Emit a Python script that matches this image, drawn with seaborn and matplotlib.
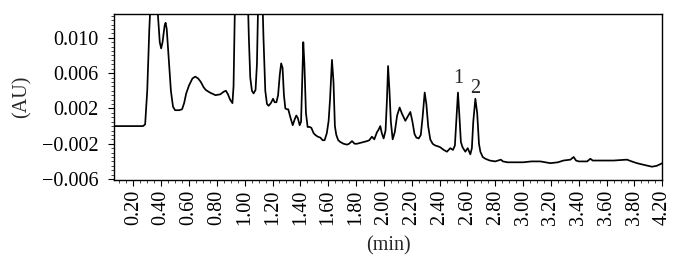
import numpy as np
import pandas as pd
import matplotlib
matplotlib.use("Agg")
import matplotlib.pyplot as plt
import seaborn as sns
from matplotlib.ticker import MultipleLocator, FuncFormatter

# chromatogram trace (time in min, signal in AU)
time_min = [
    0.06, 0.27, 0.285, 0.30, 0.315, 0.33, 0.36, 0.375, 0.39, 0.400,
    0.41, 0.425, 0.432, 0.44, 0.455, 0.47, 0.485, 0.50, 0.53, 0.55,
    0.565, 0.58, 0.60, 0.625, 0.645, 0.665, 0.685, 0.705, 0.72, 0.75,
    0.79, 0.825, 0.85, 0.865, 0.88, 0.895, 0.912, 0.92, 0.928, 0.935,
    1.02, 1.03, 1.04, 1.052, 1.064, 1.078, 1.088, 1.095, 1.10, 1.125,
    1.135, 1.148, 1.16, 1.172, 1.188, 1.204, 1.215, 1.228, 1.24, 1.252,
    1.262, 1.272, 1.282, 1.292, 1.305, 1.313, 1.328, 1.345, 1.36, 1.371,
    1.382, 1.395, 1.405, 1.413, 1.421, 1.429, 1.44, 1.452, 1.468, 1.479,
    1.495, 1.507, 1.525, 1.543, 1.56, 1.574, 1.59, 1.603, 1.613, 1.627,
    1.638, 1.648, 1.658, 1.672, 1.687, 1.71, 1.735, 1.75, 1.771, 1.79,
    1.807, 1.83, 1.855, 1.879, 1.895, 1.914, 1.931, 1.95, 1.962, 1.974,
    1.985, 1.998, 2.012, 2.022, 2.030, 2.04, 2.05, 2.063, 2.078, 2.095,
    2.113, 2.13, 2.154, 2.172, 2.19, 2.205, 2.22, 2.233, 2.25, 2.265,
    2.278, 2.293, 2.305, 2.318, 2.333, 2.35, 2.369, 2.39, 2.405, 2.43,
    2.453, 2.465, 2.477, 2.496, 2.51, 2.52, 2.532, 2.543, 2.553, 2.565,
    2.585, 2.602, 2.621, 2.632, 2.642, 2.657, 2.67, 2.683, 2.693, 2.71,
    2.729, 2.76, 2.80, 2.82, 2.84, 2.855, 2.887, 2.95, 3.00, 3.06,
    3.124, 3.16, 3.196, 3.25, 3.29, 3.34, 3.363, 3.38, 3.40, 3.46,
    3.483, 3.50, 3.55, 3.65, 3.746, 3.78, 3.818, 3.87, 3.926, 3.96,
    4.00,
]
absorbance_au = [
    0.0, 0.0, 0.0002, 0.004, 0.011, 0.016, 0.017, 0.013, 0.0095, 0.0088,
    0.0095, 0.0114, 0.0117, 0.0110, 0.0075, 0.0040, 0.0022, 0.0018, 0.0018, 0.0019,
    0.0026, 0.0037, 0.0046, 0.0054, 0.0056, 0.0054, 0.0050, 0.0044, 0.0041, 0.0038,
    0.0035, 0.0036, 0.0039, 0.0040, 0.0036, 0.0030, 0.0026, 0.0045, 0.012, 0.016,
    0.016, 0.010, 0.0055, 0.0040, 0.0037, 0.0041, 0.0070, 0.013, 0.016, 0.016,
    0.0100, 0.0040, 0.0025, 0.0023, 0.0026, 0.0031, 0.0027, 0.0027, 0.0035, 0.0058,
    0.0071, 0.0066, 0.0035, 0.0020, 0.0019, 0.0019, 0.0010, 0.0001, 0.0008, 0.0012,
    0.0009, 0.0001, 0.0005, 0.0050, 0.0095, 0.0070, 0.0015, -0.0001, -0.0001, -0.0002,
    -0.0008, -0.0010, -0.0012, -0.0013, -0.0016, -0.0016, -0.0008, 0.0006, 0.0030, 0.0075,
    0.0050, 0.0000, -0.0010, -0.0016, -0.0018, -0.0020, -0.0021, -0.0020, -0.0017, -0.0020,
    -0.0020, -0.0019, -0.0018, -0.0017, -0.0016, -0.0012, -0.0015, -0.0007, -0.0004, 0.0000,
    -0.0008, -0.0014, -0.0005, 0.0030, 0.0068, 0.0040, 0.0005, -0.0015, -0.0007, 0.0012,
    0.0021, 0.0014, 0.0006, 0.0011, 0.0016, 0.0005, -0.0009, -0.0013, -0.0014, -0.0010,
    0.0010, 0.0038, 0.0025, 0.0000, -0.0015, -0.0020, -0.0022, -0.0023, -0.0024, -0.0027,
    -0.0029, -0.0027, -0.0025, -0.0027, -0.0022, 0.0005, 0.0038, 0.0010, -0.0018, -0.0024,
    -0.0029, -0.0025, -0.0032, -0.0025, 0.0005, 0.0031, 0.0015, -0.0020, -0.0029, -0.0035,
    -0.0037, -0.0039, -0.0040, -0.0039, -0.0038, -0.0040, -0.0041, -0.0041, -0.0041, -0.0040,
    -0.0040, -0.0041, -0.0042, -0.0041, -0.0039, -0.0038, -0.0035, -0.0039, -0.0040, -0.0040,
    -0.0037, -0.0039, -0.0039, -0.0039, -0.0038, -0.0040, -0.0042, -0.0044, -0.0046, -0.0045,
    -0.0042,
]

# labelled peaks
peak_names = ["1", "2"]
peak_times = [2.532, 2.657]
peak_label_y = [0.0054, 0.0043]

# x ticks as printed on the original (the last one reads 4.20)
x_tick_pos = [0.20, 0.40, 0.60, 0.80, 1.00, 1.20, 1.40, 1.60, 1.80, 2.00,
              2.20, 2.40, 2.60, 2.80, 3.00, 3.20, 3.40, 3.60, 3.80, 4.00]
x_tick_labels = ["0.20", "0.40", "0.60", "0.80", "1.00", "1.20", "1.40", "1.60", "1.80", "2.00",
                 "2.20", "2.40", "2.60", "2.80", "3.00", "3.20", "3.40", "3.60", "3.80", "4.20"]
y_ticks = [-0.006, -0.002, 0.002, 0.006, 0.010]

sns.set_style("ticks")
plt.rcParams['font.family'] = ['Liberation Serif', 'DejaVu Serif']
plt.rcParams['font.size'] = 14.5

df = pd.DataFrame({"time": time_min, "au": absorbance_au})

fig, ax = plt.subplots(figsize=(6.8, 2.79), dpi=100)
fig.subplots_adjust(left=0.168, right=0.974, top=0.950, bottom=0.355)

sns.lineplot(data=df, x="time", y="au", ax=ax, color="black", linewidth=1.25, sort=False)

for name, t, yl in zip(peak_names, peak_times, peak_label_y):
    ax.text(t, yl, name, ha="center", va="center", fontsize=14.5)

ax.set_xlim(0.063, 4.0)
ax.set_ylim(-0.0061, 0.0127)

ax.set_xticks(x_tick_pos)
ax.set_xticklabels(x_tick_labels, rotation=90)
ax.xaxis.set_minor_locator(MultipleLocator(0.05))
ax.set_yticks(y_ticks)
ax.yaxis.set_major_formatter(FuncFormatter(lambda v, p: f"{v:.3f}".replace("-", "\u2212")))
ax.yaxis.set_minor_locator(MultipleLocator(0.0005))

ax.tick_params(axis="both", which="major", direction="out", length=4, width=0.8,
               labelsize=14.5, colors="black")
ax.tick_params(axis="x", which="major", pad=3)
ax.tick_params(axis="y", which="major", pad=7)
ax.tick_params(axis="both", which="minor", direction="out", length=2, width=0.6)

for s in ax.spines.values():
    s.set_visible(True)
    s.set_color("black")
    s.set_linewidth(1.0)

ax.set_xlabel("(min)", fontsize=14.5, labelpad=8)
ax.set_ylabel("(AU)", fontsize=14.5, labelpad=8)

fig.savefig("out.png", dpi=100)
